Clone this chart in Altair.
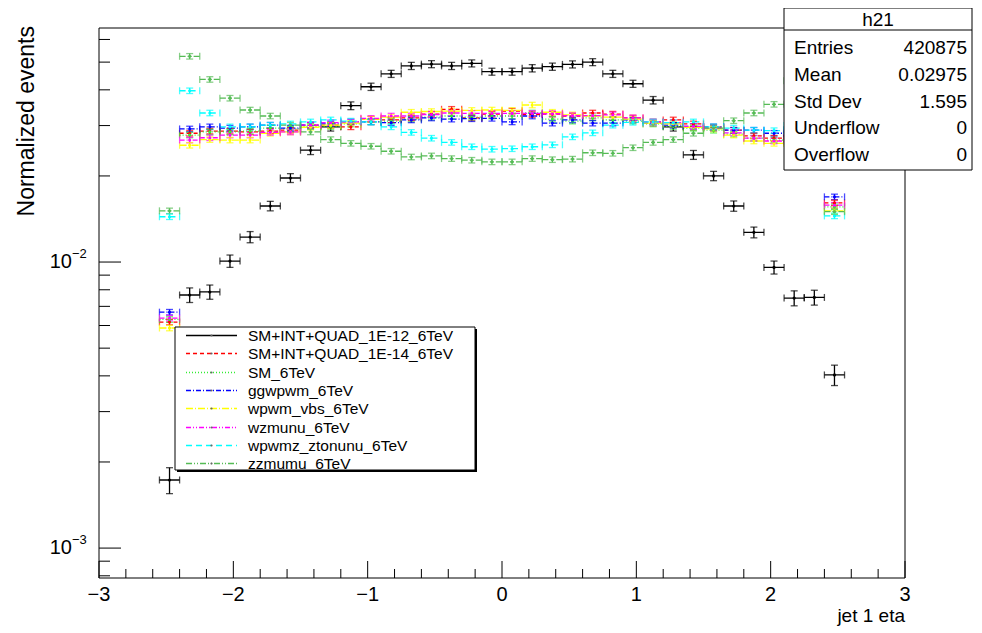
import altair as alt
import pandas as pd

# ---------------- data ----------------
eta_centers = [-2.475, -2.325, -2.175, -2.025, -1.875, -1.725, -1.575, -1.425, -1.275, -1.125,
               -0.975, -0.825, -0.675, -0.525, -0.375, -0.225, -0.075, 0.075, 0.225, 0.375,
               0.525, 0.675, 0.825, 0.975, 1.125, 1.275, 1.425, 1.575, 1.725, 1.875,
               2.025, 2.175, 2.325, 2.475]
bin_half_width = 0.075

series_names = ["SM+INT+QUAD_1E-12_6TeV", "SM+INT+QUAD_1E-14_6TeV", "SM_6TeV", "ggwpwm_6TeV",
                "wpwm_vbs_6TeV", "wzmunu_6TeV", "wpwmz_ztonunu_6TeV", "zzmumu_6TeV"]
series_colors = ["#000000", "#ff0000", "#33ee33", "#0000ff", "#ffff00", "#ff00ff", "#00ffff", "#55bb55"]
series_dash = [[1, 0], [4, 3], [1, 2], [5, 2, 1, 2], [7, 2, 1, 2], [5, 2, 1, 2, 1, 2], [6, 4], [6, 2, 1, 2, 1, 2]]

sm_int_quad_1e12 = [0.00173, 0.00767, 0.00786, 0.01008, 0.01223, 0.01570, 0.01967, 0.0246, 0.0297, 0.0352,
                    0.0410, 0.0455, 0.0485, 0.0492, 0.0485, 0.0495, 0.0463, 0.0463, 0.0476, 0.0482,
                    0.0491, 0.0500, 0.0455, 0.0420, 0.0368, 0.0297, 0.0237, 0.0200, 0.0157, 0.0127,
                    0.00958, 0.00748, 0.00752, 0.00403]
sm_int_quad_1e14 = [0.00617, 0.0282, 0.0287, 0.0287, 0.0285, 0.0287, 0.0289, 0.0301, 0.0301, 0.0297,
                    0.0316, 0.0314, 0.0319, 0.0329, 0.0342, 0.0319, 0.0329, 0.0337, 0.0328, 0.0329,
                    0.0324, 0.0332, 0.0329, 0.0319, 0.0309, 0.0314, 0.0304, 0.0296, 0.0289, 0.0276,
                    0.0271, 0.0280, 0.0280, 0.0161]
sm_only = [0.0063, 0.0278, 0.0285, 0.0285, 0.0287, 0.0294, 0.0292, 0.0298, 0.0298, 0.0304,
           0.0309, 0.0311, 0.0316, 0.0321, 0.0324, 0.0321, 0.0324, 0.0324, 0.0332, 0.0316,
           0.0311, 0.0319, 0.0314, 0.0311, 0.0304, 0.0298, 0.0294, 0.0289, 0.0280, 0.0271,
           0.0267, 0.0270, 0.0270, 0.0156]
ggwpwm = [0.00668, 0.0292, 0.0297, 0.0294, 0.0297, 0.0301, 0.0294, 0.0301, 0.0304, 0.0309,
          0.0309, 0.0307, 0.0314, 0.0319, 0.0316, 0.0317, 0.0318, 0.0309, 0.0324, 0.0306,
          0.0314, 0.0306, 0.0306, 0.0314, 0.0306, 0.0301, 0.0298, 0.0297, 0.0289, 0.0289,
          0.0282, 0.0290, 0.0290, 0.0169]
wpwm_vbs = [0.00588, 0.0256, 0.0268, 0.0267, 0.0267, 0.0282, 0.0285, 0.0296, 0.0301, 0.0306,
            0.0316, 0.0321, 0.0334, 0.0336, 0.0337, 0.0339, 0.0340, 0.0339, 0.0354, 0.0334,
            0.0327, 0.0324, 0.0321, 0.0316, 0.0306, 0.0304, 0.0296, 0.0292, 0.0278, 0.0265,
            0.0260, 0.0260, 0.0260, 0.0151]
wzmunu = [0.00637, 0.0267, 0.0272, 0.0278, 0.0278, 0.0284, 0.0285, 0.0301, 0.0307, 0.0309,
          0.0318, 0.0324, 0.0324, 0.0328, 0.0332, 0.0331, 0.0331, 0.0331, 0.0331, 0.0330,
          0.0325, 0.0325, 0.0327, 0.0319, 0.0309, 0.0307, 0.0298, 0.0294, 0.0283, 0.0271,
          0.0265, 0.0270, 0.0270, 0.0158]
wpwmz_ztonunu = [0.0144, 0.0397, 0.0332, 0.0297, 0.0297, 0.0301, 0.0304, 0.0309, 0.0314, 0.0311,
                 0.0309, 0.0297, 0.0284, 0.0271, 0.0262, 0.0253, 0.0248, 0.0249, 0.0253, 0.0257,
                 0.0274, 0.0283, 0.0301, 0.0308, 0.0309, 0.0307, 0.0309, 0.0297, 0.0294, 0.0289,
                 0.0288, 0.0300, 0.0380, 0.0145]
zzmumu = [0.0151, 0.0524, 0.0435, 0.0374, 0.0340, 0.0324, 0.0301, 0.0285, 0.0268, 0.0260,
          0.0254, 0.0244, 0.0233, 0.0235, 0.0230, 0.0227, 0.0224, 0.0224, 0.0230, 0.0228,
          0.0229, 0.0241, 0.0240, 0.0251, 0.0262, 0.0268, 0.0282, 0.0294, 0.0312, 0.0332,
          0.0356, 0.0430, 0.0520, 0.0150]

black_err = [0.00018, 0.00045, 0.00045, 0.00050, 0.00055, 0.00060, 0.00070, 0.00085, 0.0010, 0.0011,
             0.0012, 0.0013, 0.0014, 0.0014, 0.0014, 0.0014, 0.0013, 0.0013, 0.0014, 0.0014,
             0.0014, 0.0014, 0.0013, 0.0012, 0.0011, 0.0010, 0.00085, 0.00075, 0.00065, 0.00055,
             0.00050, 0.00045, 0.00045, 0.00033]
color_rel_err = 0.022

x_major_ticks = [-3, -2, -1, 0, 1, 2, 3]
x_tick_labels = ["\u22123", "\u22122", "\u22121", "0", "1", "2", "3"]
x_minor_ticks = [-2.8, -2.6, -2.4, -2.2, -1.8, -1.6, -1.4, -1.2, -0.8, -0.6, -0.4, -0.2,
                 0.2, 0.4, 0.6, 0.8, 1.2, 1.4, 1.6, 1.8, 2.2, 2.4, 2.6, 2.8]
y_major_ticks = [0.001, 0.01]
y_tick_exps = ["\u22123", "\u22122"]
y_minor_ticks = [0.0008, 0.0009, 0.002, 0.003, 0.004, 0.005, 0.006, 0.007, 0.008, 0.009,
                 0.02, 0.03, 0.04, 0.05, 0.06]

stats_title = "h21"
stats_labels = ["Entries", "Mean", "Std Dev", "Underflow", "Overflow"]
stats_values = ["420875", "0.02975", "1.595", "0", "0"]

x_title = "jet 1 eta"
y_title = "Normalized events"

# ---------------- build table ----------------
all_values = [sm_int_quad_1e12, sm_int_quad_1e14, sm_only, ggwpwm, wpwm_vbs, wzmunu, wpwmz_ztonunu, zzmumu]
rows = []
for k, (name, vals) in enumerate(zip(series_names, all_values)):
    for i, (x, v) in enumerate(zip(eta_centers, vals)):
        e = black_err[i] if k == 0 else v * color_rel_err
        rows.append(dict(series=name, eta=x, xlo=x - bin_half_width, xhi=x + bin_half_width,
                         val=v, elo=v - e, ehi=v + e))
df = pd.DataFrame(rows)

W, H = 806, 550
FONT = "Liberation Sans"
xs = alt.Scale(domain=[-3, 3], nice=False, zero=False)
ys = alt.Scale(type="log", domain=[0.000786, 0.0658], nice=False)
color = alt.Color("series:N", scale=alt.Scale(domain=series_names, range=series_colors), legend=None)
dash = alt.StrokeDash("series:N", scale=alt.Scale(domain=series_names, range=series_dash), legend=None)

base = alt.Chart(df)
one = pd.DataFrame({"k": [0]})
layers = []
SW = 1.3

# data: horizontal bars, vertical bars, caps, markers
layers.append(base.mark_rule(strokeWidth=SW).encode(
    x=alt.X("xlo:Q", scale=xs, axis=None), x2="xhi:Q",
    y=alt.Y("val:Q", scale=ys, axis=None), color=color, strokeDash=dash))
layers.append(base.mark_tick(orient="vertical", size=7, thickness=SW).encode(
    x=alt.X("xlo:Q", scale=xs, axis=None), y=alt.Y("val:Q", scale=ys, axis=None), color=color))
layers.append(base.mark_tick(orient="vertical", size=7, thickness=SW).encode(
    x=alt.X("xhi:Q", scale=xs, axis=None), y=alt.Y("val:Q", scale=ys, axis=None), color=color))
layers.append(base.mark_rule(strokeWidth=SW).encode(
    x=alt.X("eta:Q", scale=xs, axis=None),
    y=alt.Y("elo:Q", scale=ys, axis=None), y2="ehi:Q", color=color))
layers.append(base.mark_tick(orient="horizontal", size=7, thickness=SW).encode(
    x=alt.X("eta:Q", scale=xs, axis=None), y=alt.Y("elo:Q", scale=ys, axis=None), color=color))
layers.append(base.mark_tick(orient="horizontal", size=7, thickness=SW).encode(
    x=alt.X("eta:Q", scale=xs, axis=None), y=alt.Y("ehi:Q", scale=ys, axis=None), color=color))
layers.append(base.mark_circle(size=10, opacity=1).encode(
    x=alt.X("eta:Q", scale=xs, axis=None), y=alt.Y("val:Q", scale=ys, axis=None), color=color))

# frame
layers.append(alt.Chart(one).mark_rect(fill="transparent", stroke="black", strokeWidth=1).encode(
    x=alt.value(0), x2=alt.value(W), y=alt.value(0), y2=alt.value(H)))

# x ticks
xmaj = pd.DataFrame({"v": x_major_ticks, "lab": x_tick_labels})
layers.append(alt.Chart(xmaj).mark_rule(color="black").encode(
    x=alt.X("v:Q", scale=xs, axis=None), y=alt.value(H), y2=alt.value(H - 17)))
layers.append(alt.Chart(pd.DataFrame({"v": x_minor_ticks})).mark_rule(color="black").encode(
    x=alt.X("v:Q", scale=xs, axis=None), y=alt.value(H), y2=alt.value(H - 9)))
layers.append(alt.Chart(xmaj).mark_text(font=FONT, fontSize=20, align="center", baseline="middle", color="black").encode(
    x=alt.X("v:Q", scale=xs, axis=None), y=alt.value(H + 17), text="lab:N"))

# y ticks
ymaj = pd.DataFrame({"v": y_major_ticks, "exp": y_tick_exps})
layers.append(alt.Chart(ymaj).mark_rule(color="black").encode(
    y=alt.Y("v:Q", scale=ys, axis=None), x=alt.value(0), x2=alt.value(22)))
layers.append(alt.Chart(pd.DataFrame({"v": y_minor_ticks})).mark_rule(color="black").encode(
    y=alt.Y("v:Q", scale=ys, axis=None), x=alt.value(0), x2=alt.value(11)))
layers.append(alt.Chart(ymaj).mark_text(font=FONT, fontSize=20, align="right", baseline="middle", color="black").encode(
    y=alt.Y("v:Q", scale=ys, axis=None), x=alt.value(-27), text=alt.value("10")))
layers.append(alt.Chart(ymaj).mark_text(font=FONT, fontSize=13, align="left", baseline="middle", dy=-8, color="black").encode(
    y=alt.Y("v:Q", scale=ys, axis=None), x=alt.value(-27), text="exp:N"))

# axis titles
layers.append(alt.Chart(one).mark_text(font=FONT, fontSize=19, align="right", baseline="middle", color="black").encode(
    x=alt.value(W), y=alt.value(H + 38), text=alt.value(x_title)))
layers.append(alt.Chart(one).mark_text(font=FONT, fontSize=23, align="right", baseline="middle", angle=270, color="black").encode(
    x=alt.value(-72), y=alt.value(-2), text=alt.value(y_title)))

# legend box
LX0, LX1, LY0, LY1 = 76, 376, 299, 442
layers.append(alt.Chart(one).mark_rect(fill="black").encode(
    x=alt.value(LX0 + 2), x2=alt.value(LX1 + 2), y=alt.value(LY0 + 2), y2=alt.value(LY1 + 2)))
layers.append(alt.Chart(one).mark_rect(fill="white", stroke="black", strokeWidth=1).encode(
    x=alt.value(LX0), x2=alt.value(LX1), y=alt.value(LY0), y2=alt.value(LY1)))
for i, (name, col, dsh) in enumerate(zip(series_names, series_colors, series_dash)):
    yy = round(307 + 18.33 * i) + 0.5
    layers.append(alt.Chart(one).mark_rule(stroke=col, strokeWidth=1.3, strokeDash=dsh).encode(
        x=alt.value(87), x2=alt.value(138), y=alt.value(yy)))
    layers.append(alt.Chart(one).mark_circle(size=5, opacity=1, color="#666666").encode(
        x=alt.value(112.5), y=alt.value(yy)))
    layers.append(alt.Chart(one).mark_text(font=FONT, fontSize=15.5, align="left", baseline="middle", color="black").encode(
        x=alt.value(149), y=alt.value(yy), text=alt.value(name)))

# stats box
SX0, SX1, SY0, SY1 = 685, 873, -20, 142
layers.append(alt.Chart(one).mark_rect(fill="white", stroke="black", strokeWidth=1).encode(
    x=alt.value(SX0), x2=alt.value(SX1), y=alt.value(SY0), y2=alt.value(SY1)))
layers.append(alt.Chart(one).mark_rule(color="black").encode(
    x=alt.value(SX0), x2=alt.value(SX1), y=alt.value(2)))
layers.append(alt.Chart(one).mark_text(font=FONT, fontSize=19, align="center", baseline="middle", color="black").encode(
    x=alt.value((SX0 + SX1) / 2), y=alt.value(-8), text=alt.value(stats_title)))
for i, (lab, val) in enumerate(zip(stats_labels, stats_values)):
    yy = 20.3 + 26.7 * i
    layers.append(alt.Chart(one).mark_text(font=FONT, fontSize=19, align="left", baseline="middle", color="black").encode(
        x=alt.value(SX0 + 10), y=alt.value(yy), text=alt.value(lab)))
    layers.append(alt.Chart(one).mark_text(font=FONT, fontSize=19, align="right", baseline="middle", color="black").encode(
        x=alt.value(SX1 - 5), y=alt.value(yy), text=alt.value(val)))

chart = alt.layer(*layers).properties(
    width=W, height=H,
    padding={"left": 91, "top": 20, "right": 69, "bottom": 48},
    autosize=alt.AutoSizeParams(type="none"),
    background="white",
).configure_view(strokeWidth=0)

chart.save("out.html", embed_options={"renderer": "svg", "actions": False})
